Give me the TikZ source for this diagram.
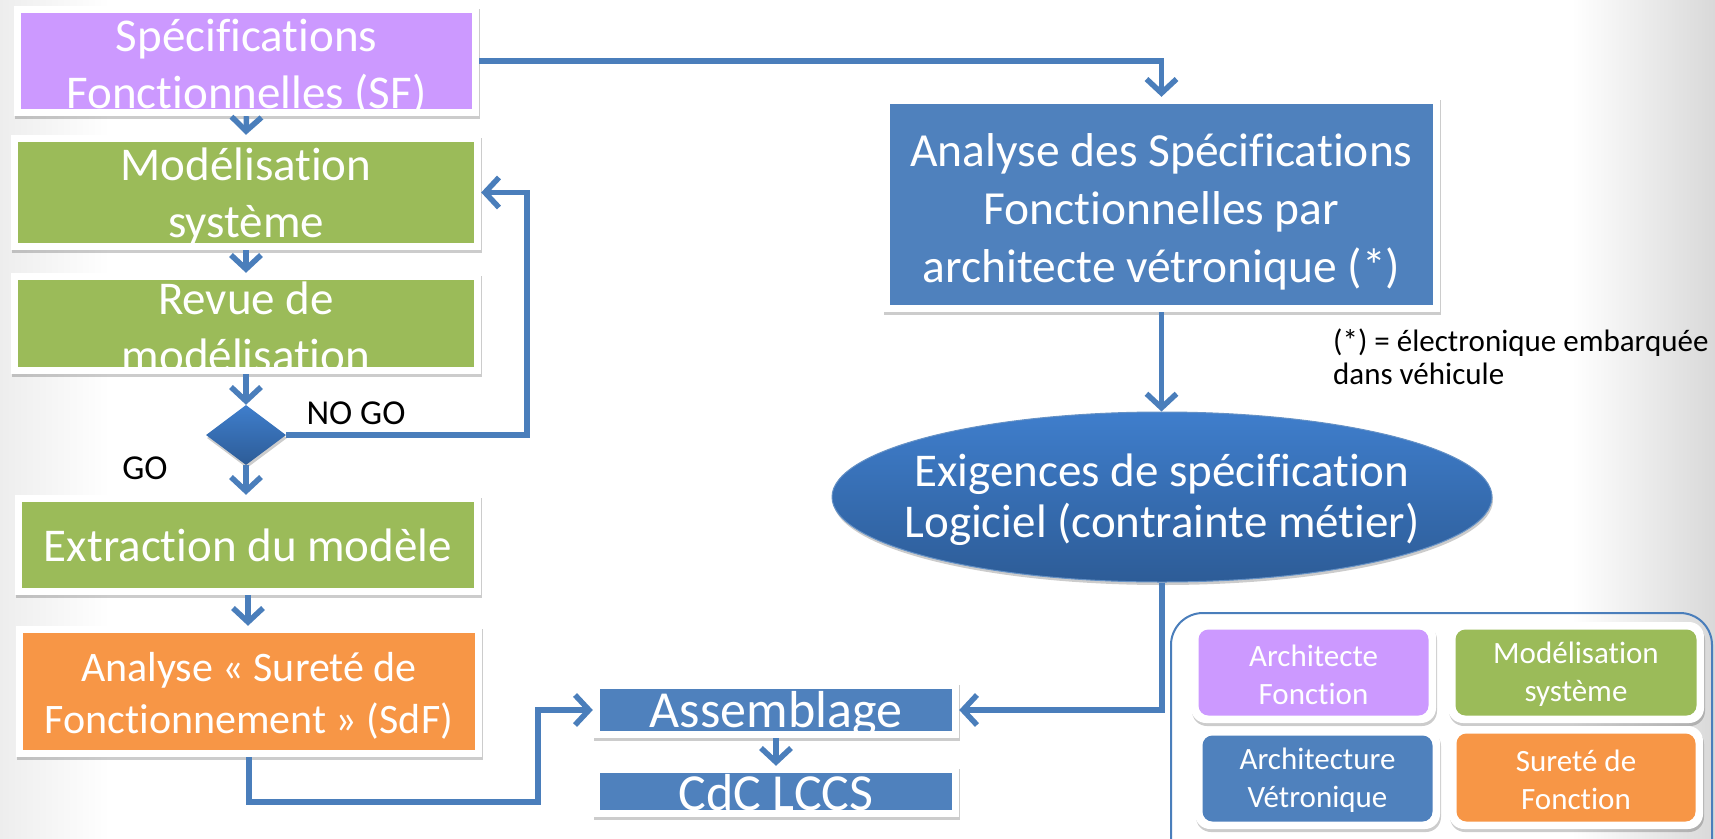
\documentclass[tikz,border=0pt]{standalone}
\usepackage{fontspec}
\setmainfont{Carlito}[Ligatures=NoCommon]
\usetikzlibrary{arrows.meta,shapes.geometric,shadows,calc}

\definecolor{linkblue}{HTML}{4A7EBB}
\definecolor{boxblue}{HTML}{4F81BD}
\definecolor{sfpurple}{HTML}{CC99FF}
\definecolor{modgreen}{HTML}{9BBB59}
\definecolor{sdforange}{HTML}{F79646}
\definecolor{shadetop}{HTML}{3F7ECC}
\definecolor{shadebot}{HTML}{2D5C97}

\tikzset{
  softshadow/.style={drop shadow={shadow xshift=1pt,shadow yshift=-3pt,opacity=0.2,fill=black}},
  cardlabel/.style={text=white, align=center, inner sep=0pt},
  % white framed box; the coloured panel and its clipped text are drawn inside
  card/.style n args={4}{rectangle, fill=white, inner sep=0pt, softshadow,
    path picture={
      \fill[#1] ([shift={(7pt,7pt)}]path picture bounding box.south west)
        rectangle ([shift={(-7pt,-7pt)}]path picture bounding box.north east);
      \clip ([shift={(7pt,7pt)}]path picture bounding box.south west)
        rectangle ([shift={(-7pt,-7pt)}]path picture bounding box.north east);
      \node[cardlabel, font=#2] at ([yshift=#3]path picture bounding box.center) {#4};
    }},
  legcard/.style n args={4}{rectangle, rounded corners=15pt, fill=white, inner sep=0pt, softshadow,
    path picture={
      \fill[#1, rounded corners=10pt] ([shift={(7.5pt,7.5pt)}]path picture bounding box.south west)
        rectangle ([shift={(-7.5pt,-7.5pt)}]path picture bounding box.north east);
      \node[cardlabel, font=#2] at ([yshift=#3]path picture bounding box.center) {#4};
    }},
  link/.style={draw=linkblue, line width=5.5pt, -{Straight Barb[length=14pt,width=30pt]}},
  plain/.style={text=black, inner sep=0pt},
}

\newcommand\bigfont{\fontsize{47}{57}\selectfont}
\newcommand\legfont{\fontsize{31}{38}\selectfont}

\begin{document}
\begin{tikzpicture}[x=1pt,y=-1pt]
\useasboundingbox (0,0) rectangle (1715,838);
\clip (0,0) rectangle (1715,838);

% page background with soft grey edges
\fill[white] (0,0) rectangle (1715,838);
\shade[left color=black!7, right color=white] (0,0) rectangle (110,838);
\shade[left color=white, right color=black!15] (1572,0) rectangle (1715,838);

% left column
\node[card={sfpurple}{\bigfont}{-6pt}{Spécifications\\Fonctionnelles (SF)},
      minimum width=465pt, minimum height=110pt] (sf) at (246.5,61) {};
\node[card={modgreen}{\bigfont}{-4pt}{Modélisation\\système},
      minimum width=470pt, minimum height=115pt] (mod) at (246,192.5) {};
\node[card={modgreen}{\bigfont}{-3.5pt}{Revue de\\modélisation},
      minimum width=470pt, minimum height=101pt] (rev) at (246,323.5) {};
\node[diamond, minimum width=80pt, minimum height=60pt, inner sep=0pt,
      top color=shadetop, bottom color=shadebot, softshadow] (dia) at (246,435) {};
\node[card={modgreen}{\bigfont}{0pt}{Extraction du modèle},
      minimum width=466pt, minimum height=100pt] (ext) at (248,545) {};
\node[card={sdforange}{\fontsize{42}{52}\selectfont}{-4pt}{Analyse «~Sureté de\\Fonctionnement~» (SdF)},
      minimum width=466pt, minimum height=131pt] (sdf) at (249,691.5) {};

\node[plain, font=\fontsize{35}{40}\selectfont] (nogo) at (356,413) {NO GO};
\node[plain, font=\fontsize{35}{40}\selectfont] (go) at (145,468) {GO};

% bottom centre
\node[card={boxblue}{\fontsize{52}{60}\selectfont}{-4pt}{Assemblage},
      minimum width=366pt, minimum height=56pt] (asm) at (776,710) {};
\node[card={boxblue}{\fontsize{52}{60}\selectfont}{-1pt}{CdC LCCS},
      minimum width=366pt, minimum height=51pt] (cdc) at (776,791.5) {};

% right column
\node[card={boxblue}{\fontsize{47.5}{58}\selectfont}{-7pt}{Analyse des Spécifications\\Fonctionnelles par\\architecte vétronique (*)},
      minimum width=557pt, minimum height=215pt] (ana) at (1161.5,204.5) {};
\node[ellipse, minimum width=660pt, minimum height=170pt, inner sep=0pt,
      top color=shadetop, bottom color=shadebot, draw=linkblue!85!white, line width=1pt,
      softshadow] (ell) at (1162,497) {};
\node[cardlabel, font=\fontsize{47}{51}\selectfont] (elltext) at (1162,500) {Exigences de spécification\\Logiciel (contrainte métier)};

\node[plain, anchor=north west, align=left, font=\fontsize{31}{33}\selectfont] (note) at (1333,329)
  {(*) = électronique embarquée\\dans véhicule};

% legend
\draw[linkblue, line width=2pt, rounded corners=32pt] (1171,613) rectangle (1712,880);
\node[legcard={sfpurple}{\legfont}{-2pt}{Architecte\\Fonction},
      minimum width=245pt, minimum height=101pt] (lgaf) at (1313.5,672.5) {};
\node[legcard={modgreen}{\legfont}{-2pt}{Modélisation\\système},
      minimum width=256pt, minimum height=101pt] (lgms) at (1576,672.5) {};
\node[legcard={boxblue}{\legfont}{-2pt}{Architecture\\Vétronique},
      minimum width=245pt, minimum height=101pt] (lgav) at (1317.5,778.5) {};
\node[legcard={sdforange}{\legfont}{-2pt}{Sureté de\\Fonction},
      minimum width=254pt, minimum height=103pt] (lgsf) at (1576,777.5) {};

% connectors
\coordinate (nogoturn) at (527,192.5);
\coordinate (sdfturn) at (538,802);
\draw[link] (sf.south) -- (mod.north);
\draw[link] (mod.south) -- (rev.north);
\draw[link] (rev.south) -- (dia.north);
\draw[link] (dia.east) -| (nogoturn) -- (mod.east);
\draw[link] (dia.south) -- (dia.south |- ext.north);
\draw[link] (ext.south) -- (ext.south |- sdf.north);
\draw[link] (sdf.south) |- (sdfturn) |- (asm.west);
\draw[link] (asm.south) -- (cdc.north);
\draw[link] (sf.east) -| (ana.north);
\draw[link] (ana.south) -- (ana.south |- ell.north);
\draw[link] (ell.south) |- (asm.east);
\end{tikzpicture}
\end{document}
